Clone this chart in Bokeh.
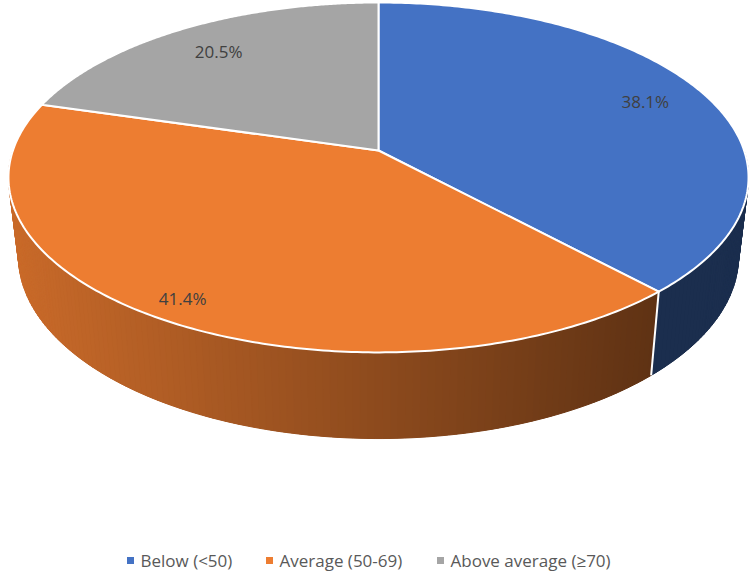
import numpy as np
from bokeh.plotting import figure
from bokeh.models import Range1d
from bokeh.core.properties import value
from bokeh.embed import file_html
from bokeh.resources import INLINE

# ---- data ----
categories = ["Below (<50)", "Average (50-69)", "Above average (≥70)"]
shares = [38.1, 41.4, 20.5]
pct_labels = ["38.1%", "41.4%", "20.5%"]
colors = ["#4472C4", "#ED7D31", "#A5A5A5"]
label_radius = [0.82, 0.9, 0.8]

# ---- geometry (page pixels) ----
CX = 378.0
K = 0.154
A_T, B_T, CY_T = 365.6, 170.8, 150.0     # top face
A_B, B_B, CY_B = 355.7, 177.7, 228.0     # bottom face

def proj(th_deg, r, A, B, CY):
    th = np.radians(th_deg)
    u = r * np.sin(th)
    v = r * np.cos(th)
    w = 1 + K * v
    return CX + A * u / w, CY - B * v / w

def top_pt(t, r=1.0):
    return proj(t, r, A_T, B_T, CY_T)

def bot_pt(t):
    return proj(t, 1.0, A_B, B_B, CY_B)

def shade(hex_color, x):
    f = 0.85 - 0.000703 * (x - 15)
    f = min(max(f, 0.40), 1.0)
    h = hex_color.lstrip("#")
    rgb = [int(h[i:i + 2], 16) for i in (0, 2, 4)]
    return "#%02x%02x%02x" % tuple(int(round(c * f)) for c in rgb)

total = sum(shares)
bounds = []
s = 0.0
for val in shares:
    e = s + val / total * 360.0
    bounds.append((s, e))
    s = e

p = figure(width=750, height=583, output_backend="svg", toolbar_location=None,
           x_range=Range1d(0, 750), y_range=Range1d(583, 0),
           min_border=0, outline_line_color=None)
p.axis.visible = False
p.grid.visible = False
p.background_fill_color = "white"
p.border_fill_color = "white"

# ---- side wall ----
base_x, base_y, base_c = [], [], []
quads = []
for (s0, e0), col in zip(bounds, colors):
    a0, a1 = max(s0, 90.0), min(e0, 270.0)
    if a1 <= a0:
        continue
    ts = np.linspace(a0, a1, max(2, int((a1 - a0) / 1.0) + 1))
    tx, ty = top_pt(ts)
    bx, by = bot_pt(ts)
    base_x.append(list(tx) + list(bx[::-1]))
    base_y.append(list(ty) + list(by[::-1]))
    base_c.append(shade(col, float(np.mean(bx))))
    for t0, t1 in zip(ts[:-1], ts[1:]):
        x0, y0 = top_pt(t0)
        x1, y1 = top_pt(t1)
        x2, y2 = bot_pt(t1)
        x3, y3 = bot_pt(t0)
        xm = (x0 + x1 + x2 + x3) / 4
        c = shade(col, xm)
        depth = np.cos(np.radians((t0 + t1) / 2))
        quads.append((depth, [x0, x1, x2, x3], [y0, y1, y2, y3], c))
p.patches(base_x, base_y, fill_color=base_c, line_color=None)
quads.sort(key=lambda q: -q[0])
p.patches([q[1] for q in quads], [q[2] for q in quads],
          fill_color=[q[3] for q in quads], line_color=[q[3] for q in quads],
          line_width=1.0)

# white boundaries on the side wall
for (s0, e0) in bounds:
    if 90 < s0 < 270:
        xt, yt = top_pt(s0)
        xb, yb = bot_pt(s0)
        p.segment(x0=[xt], y0=[yt], x1=[xb], y1=[yb], line_color="white", line_width=2)

# ---- top face ----
xs, ys = [], []
for (s0, e0) in bounds:
    ts = np.linspace(s0, e0, 200)
    px, py = top_pt(ts)
    xs.append([CX] + list(px))
    ys.append([CY_T] + list(py))
p.patches(xs, ys, fill_color=colors, line_color="white", line_width=2, line_join="round")

# ---- data labels ----
lx, ly = [], []
for (s0, e0), r in zip(bounds, label_radius):
    x, y = top_pt((s0 + e0) / 2, r)
    lx.append(x)
    ly.append(y)
p.text(x=lx, y=ly, text=pct_labels, text_align="center", text_baseline="middle",
       text_font=value("Open Sans"), text_font_size="17px", text_color="#404040")

# ---- legend ----
leg_marker_x = [130, 269, 440]
leg_y = 560
p.scatter(x=leg_marker_x, y=[leg_y] * 3, marker="square", size=7,
          fill_color=colors, line_color=None)
p.text(x=[m + 10 for m in leg_marker_x], y=[leg_y] * 3, text=categories,
       text_align="left", text_baseline="middle",
       text_font=value("Open Sans"), text_font_size="17px", text_color="#595959")

open("out.html", "w").write(file_html(p, INLINE))
